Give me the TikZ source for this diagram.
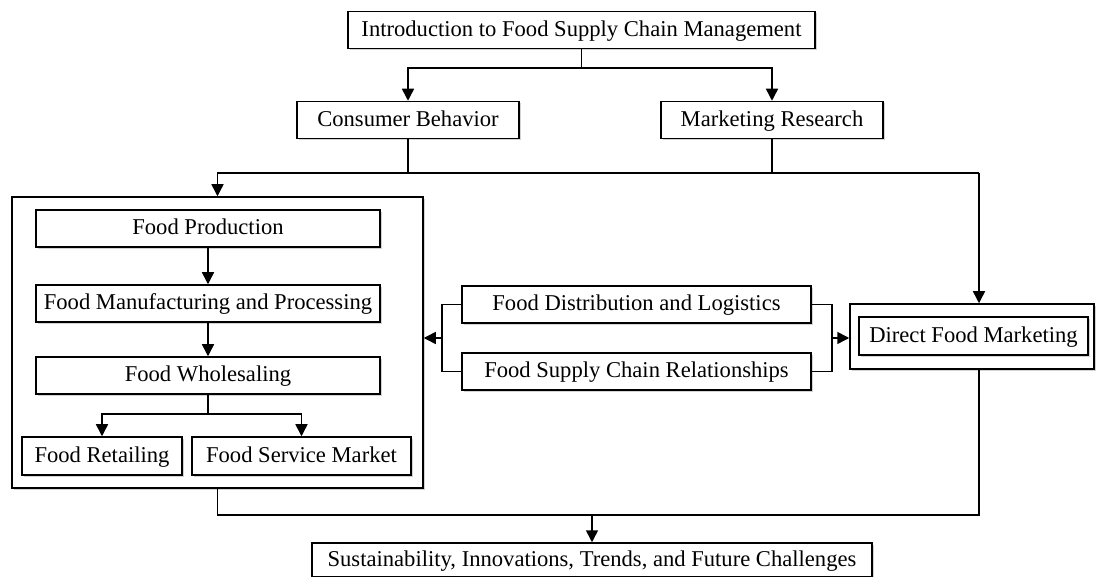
\documentclass[tikz,border=0pt]{standalone}
\usepackage{fontspec}
\setmainfont{Liberation Serif}
\usetikzlibrary{arrows.meta,shadows}

\tikzset{
  box/.style={draw, line width=1.5pt, fill=white, inner sep=0pt, align=center,
    font=\fontsize{22.6}{26}\selectfont, text height=17.5pt, text depth=5pt,
    drop shadow={shadow xshift=2pt, shadow yshift=-2pt, opacity=0.35, fill=black!50}},
  frame/.style={draw, line width=1.5pt, fill=white, inner sep=0pt,
    drop shadow={shadow xshift=2pt, shadow yshift=-2pt, opacity=0.35, fill=black!50}},
  link/.style={line width=1.5pt},
  arr/.style={line width=1.5pt, -{Triangle[length=12pt,width=12pt]}}
}

\begin{document}
\begin{tikzpicture}[x=1pt,y=1pt,yscale=-1,xscale=1]
\useasboundingbox (0,0) rectangle (1096,577);

% outer frames
\node[frame, minimum width=411, minimum height=291] (food) at (217.5,342.5) {};
\node[frame, minimum width=244, minimum height=65] (direct) at (972,336.5) {};

% Text Node
\node[box, minimum width=467, minimum height=37] (intro) at (581.5,30) {Introduction to Food Supply Chain Management};
\node[box, minimum width=222, minimum height=37] (cb) at (408,120) {Consumer Behavior};
\node[box, minimum width=222, minimum height=37] (mr) at (772,120) {Marketing Research};

% inside the left frame
\node[box, minimum width=344, minimum height=37] (prod) at (208,228.5) {Food Production};
\node[box, minimum width=344, minimum height=37] (manu) at (208,303.5) {Food Manufacturing and Processing};
\node[box, minimum width=344, minimum height=37] (whole) at (208,375.5) {Food Wholesaling};
\node[box, minimum width=160, minimum height=38] (retail) at (102,456) {Food Retailing};
\node[box, minimum width=219, minimum height=38] (service) at (301.5,456) {Food Service Market};

% middle pair
\node[box, minimum width=349, minimum height=37] (dist) at (636.5,304.5) {Food Distribution and Logistics};
\node[box, minimum width=349, minimum height=37] (rel) at (636.5,371.5) {Food Supply Chain Relationships};

% inner box on the right
\node[box, minimum width=229, minimum height=38] (dfm) at (973.5,336) {Direct Food Marketing};

% Text Node
\node[box, minimum width=560, minimum height=34] (future) at (592,560) {Sustainability, Innovations, Trends, and Future Challenges};

% junctions
\coordinate (j1) at (581.5,68);
\coordinate (j2) at (408,173);
\coordinate (j3) at (979,173);
\coordinate (j4) at (592,515);
\coordinate (j5) at (208,414);
\coordinate (lb) at (442,338);
\coordinate (rb) at (832,338);

% Straight Lines
\draw[link] (intro) -- (j1);
\draw[arr] (j1) -| (cb);
\draw[arr] (j1) -| (mr);
\draw[link] (cb) -- (j2) -- (j3);
\draw[link] (mr) -- (mr |- j3);
\draw[arr] (j2) -| (food);
\draw[arr] (j3) -- (j3 |- direct.north);

\draw[arr] (prod) -- (manu);
\draw[arr] (manu) -- (whole);
\draw[link] (whole) -- (j5);
\draw[arr] (j5) -| (retail);
\draw[arr] (j5) -| (service);

\draw[link] (dist.west) -| (lb);
\draw[link] (rel.west) -| (lb);
\draw[arr] (lb) -- (food.east |- lb);
\draw[link] (dist.east) -| (rb);
\draw[link] (rel.east) -| (rb);
\draw[arr] (rb) -- (direct.west |- rb);

\draw[link] (food) |- (j4);
\draw[link] (j3 |- direct.south) |- (j4);
\draw[arr] (j4) -- (future);

\end{tikzpicture}
\end{document}
